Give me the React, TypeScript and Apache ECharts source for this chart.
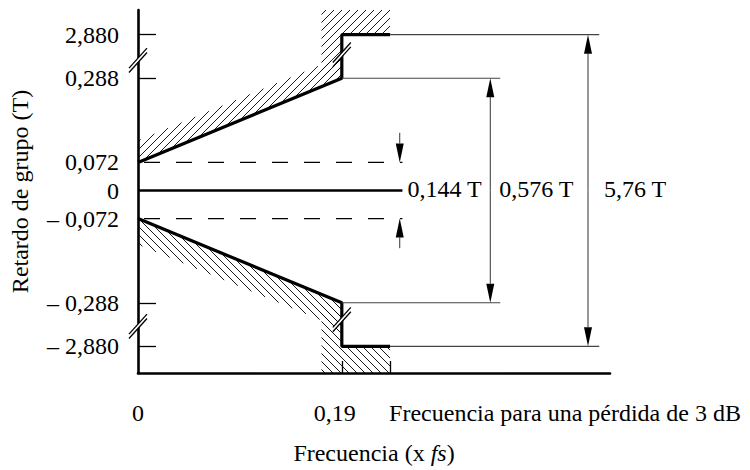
import React, { useEffect, useRef } from "react";
import * as echarts from "echarts";

const FONT = "Liberation Serif, Times New Roman, serif";
const FS = 24;

// ---- Y axis: group delay (units of T), drawn as a broken axis ----
const yTickValues = [2.88, 0.288, 0.072, 0, -0.072, -0.288, -2.88];
const yTickLabels = ["2,880", "0,288", "0,072", "0", "– 0,072", "– 0,288", "– 2,880"];
const yTickMarks = [2.88, 0.288, -0.288, -2.88];

// ---- X axis: frequency (x fs) ----
const xTickValues = [0, 0.19];
const xTickLabels = ["0", "0,19"];
const xTickMarks = [0.19, 0.235];
const f3dBLabel = "Frecuencia para una pérdida de 3 dB";
const F3DB = 0.235;

// ---- Mask limits ----
const maskFreq = [0, 0.19, 0.19, 0.235];
const upperDelay = [0.072, 0.288, 2.88, 2.88];
const lowerDelay = [-0.072, -0.288, -2.88, -2.88];

// ---- Reference lines (0 and ±0.072) ----
const refFreq = [0, 0.2465];
const zeroDelay = [0, 0];
const dashedLevels = [0.072, -0.072];

// ---- Guides and dimension arrows ----
const guideLevels = [2.88, 0.288, -0.288, -2.88];
const guideFrom = [0.235, 0.19, 0.19, 0.235];
const guideTo = [0.43, 0.3377, 0.3377, 0.43];
const dimX = [0.244, 0.3284, 0.4195];
const dimTop = [0.072, 0.288, 2.88];
const dimBottom = [-0.072, -0.288, -2.88];
const dimLabels = ["0,144 T", "0,576 T", "5,76 T"];
const dimLabelX = [0.2512, 0.3367, 0.4344];
const innerArrowTail = 0.148;

// hatched (forbidden) zones
const hatchBlockFrom = 0.171;
const axisBreaks = [1.16, -1.21]; // display units
const maskBreaks = [1.21, -1.15];

// broken-axis mapping: linear inside ±0.288, compressed outside
const INNER = 0.288;
const OUTER = 2.88;
const GAIN = 0.3877;
const disp = (v: number) => {
  const a = Math.abs(v);
  if (a <= INNER) return v / INNER;
  return Math.sign(v) * (1 + ((a - INNER) / (OUTER - INNER)) * GAIN);
};
const Y_MIN = -1.6256;
const Y_MAX = 1.6079;
const X_MAX = 0.44;
const STEP = 8;

export default function App() {
  const ref = useRef<HTMLDivElement>(null);

  useEffect(() => {
    if (!ref.current) return;
    const chart = echarts.init(ref.current, undefined, { renderer: "svg" });

    const renderItem = (_params: any, api: any) => {
      const P = (x: number, v: number) => api.coord([x, disp(v)]);
      const D = (x: number, d: number) => api.coord([x, d]);
      const kids: any[] = [];
      const line = (x1: number, y1: number, x2: number, y2: number, w: number, color = "#000") =>
        kids.push({ type: "line", shape: { x1, y1, x2, y2 }, style: { stroke: color, lineWidth: w } });

      const hatch = (poly: number[][], dir: number) => {
        const cs = poly.map(([x, y]) => x + dir * y);
        const cmin = Math.min(...cs);
        const cmax = Math.max(...cs);
        for (let c = Math.ceil(cmin / STEP) * STEP; c <= cmax; c += STEP) {
          const ts: number[] = [];
          for (let i = 0; i < poly.length; i++) {
            const [ax, ay] = poly[i];
            const [bx, by] = poly[(i + 1) % poly.length];
            const fa = ax + dir * ay - c;
            const fb = bx + dir * by - c;
            if ((fa <= 0 && fb >= 0) || (fa >= 0 && fb <= 0)) {
              if (fa === fb) continue;
              const t = fa / (fa - fb);
              ts.push(ax + t * (bx - ax));
            }
          }
          if (ts.length < 2) continue;
          const x1 = Math.min(...ts);
          const x2 = Math.max(...ts);
          if (x2 - x1 < 0.5) continue;
          const yOf = (x: number) => (dir === 1 ? c - x : x - c);
          line(x1, yOf(x1), x2, yOf(x2), 0.9);
        }
      };

      // upper forbidden zone
      {
        const A = P(0, upperDelay[0]);
        const B = P(maskFreq[1], upperDelay[1]);
        hatch([A, B, [B[0], B[1] - 22], [A[0], A[1] - 22]], 1);
        const xa = P(hatchBlockFrom, 0)[0];
        const xb = P(maskFreq[3], 0)[0];
        const x19 = P(maskFreq[1], 0)[0];
        const yTop = D(0, Y_MAX)[1];
        const yHi = P(0, upperDelay[2])[1];
        const yLo = P(0, upperDelay[1])[1];
        hatch([[xa, yTop], [xb, yTop], [xb, yHi], [xa, yHi]], 1);
        hatch([[xa, yHi], [x19, yHi], [x19, yLo], [xa, yLo]], 1);
      }
      // lower forbidden zone
      {
        const A = P(0, lowerDelay[0]);
        const B = P(maskFreq[1], lowerDelay[1]);
        hatch([A, B, [B[0], B[1] + 26], [A[0], A[1] + 26]], -1);
        const xa = P(hatchBlockFrom, 0)[0];
        const xb = P(maskFreq[3], 0)[0];
        const x19 = P(maskFreq[1], 0)[0];
        const yBot = D(0, Y_MIN)[1];
        const yHi = P(0, lowerDelay[1])[1];
        const yLo = P(0, lowerDelay[2])[1];
        hatch([[xa, yLo], [xb, yLo], [xb, yBot], [xa, yBot]], -1);
        hatch([[xa, yHi], [x19, yHi], [x19, yLo], [xa, yLo]], -1);
      }

      // break marks
      const brk = (cx: number, cy: number) => {
        const dx = 9;
        const dy = 10;
        const g = 2.2;
        kids.push({
          type: "polygon",
          shape: { points: [[cx - dx, cy + dy - g], [cx + dx, cy - dy - g], [cx + dx, cy - dy + g], [cx - dx, cy + dy + g]] },
          style: { fill: "#fff" },
        });
        line(cx - dx, cy + dy - g, cx + dx, cy - dy - g, 1.3);
        line(cx - dx, cy + dy + g, cx + dx, cy - dy + g, 1.3);
      };
      axisBreaks.forEach((d) => {
        const p = D(0, d);
        brk(p[0], p[1]);
      });
      maskBreaks.forEach((d) => {
        const p = D(maskFreq[1], d);
        brk(p[0], p[1]);
      });

      // arrows
      const arrow = (x: number, yTail: number, yTip: number) => {
        const s = yTip > yTail ? 1 : -1;
        const hl = 19;
        const hw = 4;
        line(x, yTail, x, yTip - s * hl, 1, "#333");
        kids.push({
          type: "polygon",
          shape: { points: [[x, yTip], [x - hw, yTip - s * hl], [x + hw, yTip - s * hl]] },
          style: { fill: "#000" },
        });
      };
      {
        const t1 = P(dimX[0], innerArrowTail);
        const h1 = P(dimX[0], dimTop[0]);
        arrow(t1[0], t1[1], h1[1]);
        const t2 = P(dimX[0], -innerArrowTail);
        const h2 = P(dimX[0], dimBottom[0]);
        arrow(t2[0], t2[1], h2[1]);
      }
      for (let i = 1; i < dimX.length; i++) {
        const top = P(dimX[i], dimTop[i]);
        const bot = P(dimX[i], dimBottom[i]);
        const mid = (top[1] + bot[1]) / 2;
        arrow(top[0], mid, top[1]);
        arrow(top[0], mid, bot[1]);
      }

      // dimension labels
      dimLabels.forEach((t, i) => {
        const p = P(dimLabelX[i], 0);
        kids.push({
          type: "text",
          x: p[0],
          y: p[1] - 2,
          style: { text: t, fill: "#000", fontSize: FS, fontFamily: FONT, align: "left", verticalAlign: "middle" },
        });
      });

      // 3 dB frequency label
      {
        const p = P(F3DB, 0);
        const yb = D(0, Y_MIN)[1];
        kids.push({
          type: "text",
          x: p[0] - 1,
          y: yb + 40,
          style: { text: f3dBLabel, fill: "#000", fontSize: FS, fontFamily: FONT, align: "left", verticalAlign: "middle" },
        });
      }

      return { type: "group", children: kids };
    };

    const lineSeries = (data: number[][], width: number, color = "#000", type: any = "solid", dashOffset = 0) => ({
      type: "line",
      data,
      symbol: "none",
      showSymbol: false,
      silent: true,
      clip: false,
      lineStyle: { color, width, type, dashOffset },
      z: 2,
    });

    const series: any[] = [
      lineSeries(maskFreq.map((f, i) => [f, disp(upperDelay[i])]), 3.2),
      lineSeries(maskFreq.map((f, i) => [f, disp(lowerDelay[i])]), 3.2),
      lineSeries(refFreq.map((f, i) => [f, disp(zeroDelay[i])]), 2.6),
      ...dashedLevels.map((lv) => lineSeries(refFreq.map((f) => [f, disp(lv)]), 1.2, "#000", [16, 16], 26)),
      ...guideLevels.map((lv, i) => lineSeries([[guideFrom[i], disp(lv)], [guideTo[i], disp(lv)]], 1.2, "#444")),
      {
        type: "custom",
        data: [[0, 0]],
        renderItem,
        silent: true,
        clip: false,
        z: 3,
      },
    ];

    chart.setOption({
      animation: false,
      backgroundColor: "#fff",
      grid: { left: 137, right: 140, top: 10, bottom: 93 },
      xAxis: {
        type: "value",
        min: 0,
        max: X_MAX,
        name: "{n|Frecuencia (x }{i|fs}{n|)}",
        nameLocation: "middle",
        nameGap: 68,
        nameTextStyle: {
          color: "#000",
          fontFamily: FONT,
          fontSize: FS,
          rich: {
            n: { fontFamily: FONT, fontSize: FS, color: "#000" },
            i: { fontFamily: FONT, fontSize: FS, color: "#000", fontStyle: "italic" },
          },
        },
        axisLine: { show: true, onZero: false, lineStyle: { color: "#000", width: 2.6 } },
        axisTick: { show: true, inside: true, length: 12, customValues: xTickMarks, lineStyle: { color: "#000", width: 1.3 } },
        axisLabel: {
          show: true,
          customValues: xTickValues,
          margin: 28,
          formatter: (v: number) => {
            const i = xTickValues.findIndex((t) => Math.abs(t - v) < 1e-9);
            return i === 1 ? `{b|${xTickLabels[i]}}` : `{a|${xTickLabels[Math.max(i, 0)]}}`;
          },
          rich: {
            a: { fontFamily: FONT, fontSize: FS, color: "#000" },
            b: { fontFamily: FONT, fontSize: FS, color: "#000", padding: [0, 14, 0, 0] },
          },
        },
        splitLine: { show: false },
      },
      yAxis: {
        type: "value",
        min: Y_MIN,
        max: Y_MAX,
        name: "Retardo de grupo (T)",
        nameLocation: "middle",
        nameRotate: 90,
        nameGap: 106,
        nameTextStyle: { color: "#000", fontFamily: FONT, fontSize: FS },
        axisLine: { show: true, onZero: false, lineStyle: { color: "#000", width: 2.6 } },
        axisTick: {
          show: true,
          inside: true,
          length: 18,
          customValues: yTickMarks.map(disp),
          lineStyle: { color: "#000", width: 1.3 },
        },
        axisLabel: {
          show: true,
          customValues: yTickValues.map(disp),
          margin: 19,
          color: "#000",
          fontFamily: FONT,
          fontSize: FS,
          formatter: (v: number) => {
            let best = 0;
            yTickValues.forEach((t, i) => {
              if (Math.abs(disp(t) - v) < Math.abs(disp(yTickValues[best]) - v)) best = i;
            });
            return yTickLabels[best];
          },
        },
        splitLine: { show: false },
      },
      series,
    });

    return () => chart.dispose();
  }, []);

  return <div ref={ref} style={{ width: 750, height: 470, position: "absolute", left: 0, top: 0 }} />;
}
